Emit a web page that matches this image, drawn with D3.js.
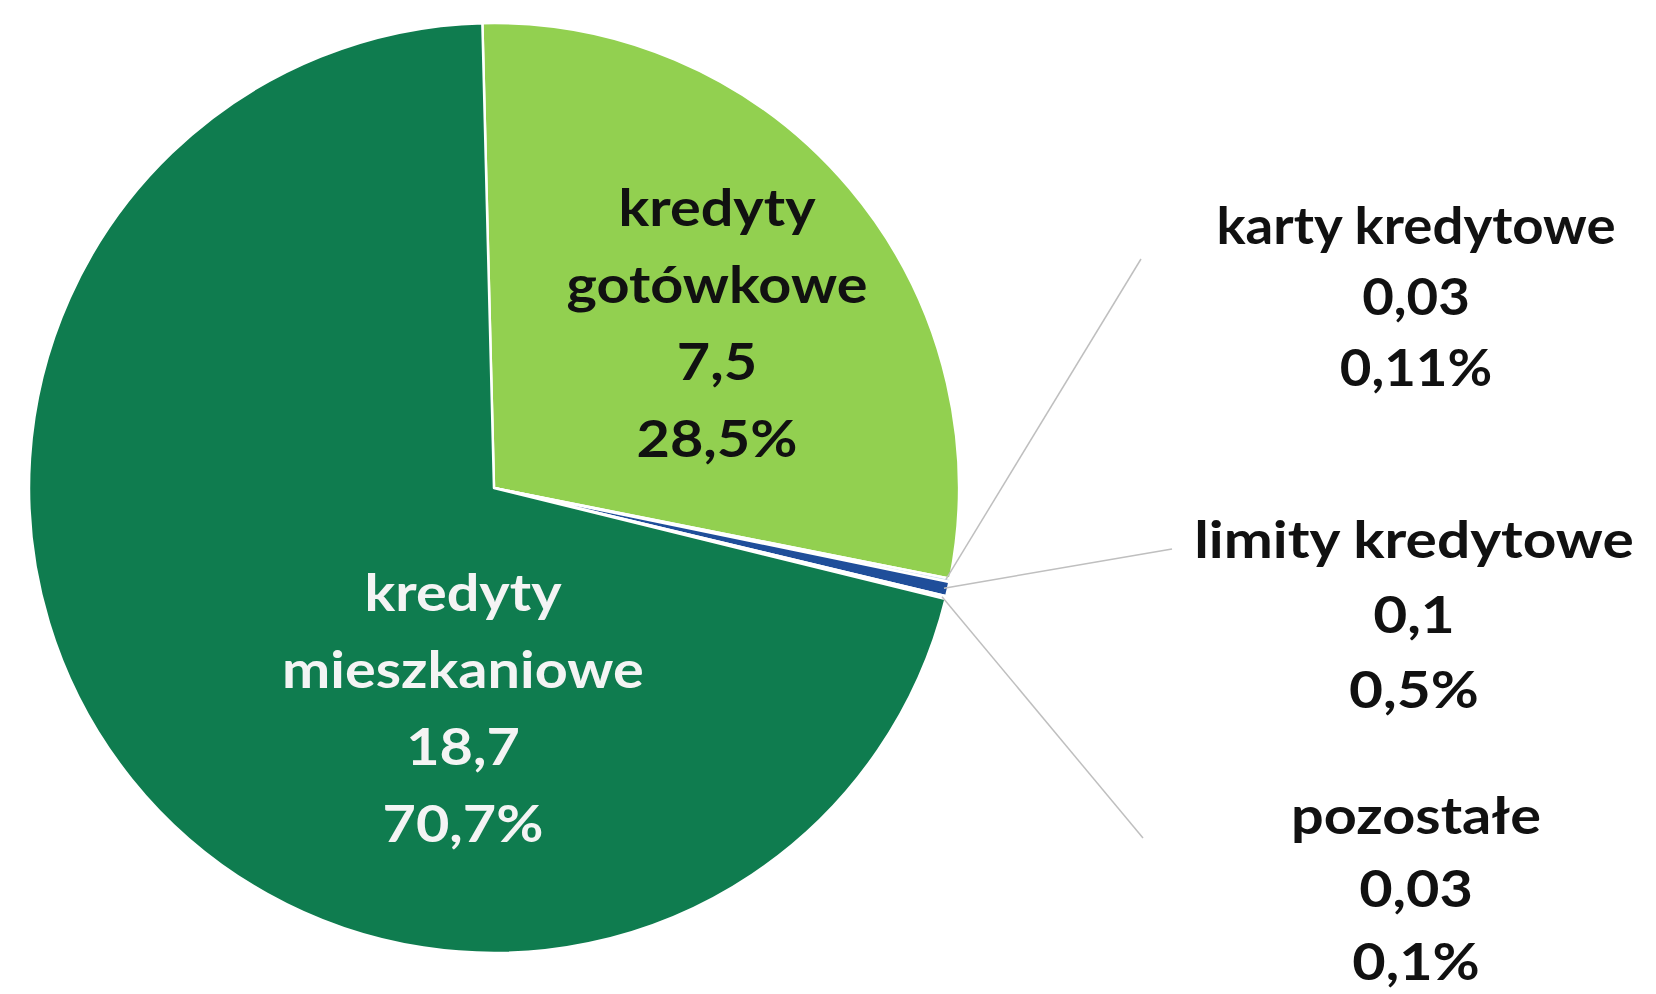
<!DOCTYPE html>
<html>
<head>
<meta charset="utf-8">
<script src="https://cdn.jsdelivr.net/npm/d3@7"></script>
<style>
  html, body { margin: 0; padding: 0; background: #fff; }
  svg { display: block; }
  text { font-family: Lato, "Open Sans", sans-serif; font-weight: 700; }
</style>
</head>
<body>
<svg id="chart" width="1656" height="994"></svg>
<script>
// ---- data ----
const categories = ["kredyty gotówkowe", "karty kredytowe", "limity kredytowe", "pozostałe", "kredyty mieszkaniowe"];
const valueLabels = ["7,5", "0,03", "0,1", "0,03", "18,7"];
const shareLabels = ["28,5%", "0,11%", "0,5%", "0,1%", "70,7%"];
const shares = [28.5, 0.11, 0.5, 0.1, 70.7];
const nameLines = [["kredyty", "gotówkowe"], ["karty kredytowe"], ["limity kredytowe"], ["pozostałe"], ["kredyty", "mieszkaniowe"]];

// ---- layout ----
const W = 1656, H = 994;
const cx = 494, cy = 488, R = 465;
const startA = -0.025;
const colors = ["#92D050", "#BDD7EE", "#1F4E9A", "#DDEBF7", "#0F7C4F"];
const textColors = ["#111", "#111", "#111", "#111", "#F4F4F4"];
const labelPos = [
  {x: 717, y: 206, out: false, step: 77, sx: 1.13},
  {x: 1416, y: 224, out: true, lx: 1141, ly: 259, step: 71, sx: 1.07},
  {x: 1414, y: 539, out: true, lx: 1172, ly: 549, step: 75, sx: 1.15},
  {x: 1416, y: 814, out: true, lx: 1143, ly: 838, step: 73, sx: 1.13},
  {x: 463, y: 591, out: false, step: 77, sx: 1.13}
];
const fontSize = 51;

const svg = d3.select("#chart");
const g = svg.append("g").attr("transform", `translate(${cx},${cy})`);

const pie = d3.pie().sort(null).value(d => d).startAngle(startA).endAngle(startA + 2 * Math.PI);
const arcs = pie(shares);
const arc = d3.arc().innerRadius(0).outerRadius(R);

g.selectAll("path.slice")
  .data(arcs)
  .join("path")
  .attr("class", "slice")
  .attr("d", arc)
  .attr("fill", (d, i) => colors[i])
  .attr("stroke", "#fff")
  .attr("stroke-width", 2.5)
  .attr("stroke-linejoin", "round");

// leader lines for small slices
arcs.forEach((d, i) => {
  const p = labelPos[i];
  if (!p.out) return;
  const a = (d.startAngle + d.endAngle) / 2;
  const sx = cx + Math.sin(a) * (R - 4);
  const sy = cy - Math.cos(a) * (R - 4);
  svg.append("line")
    .attr("x1", sx).attr("y1", sy)
    .attr("x2", p.lx).attr("y2", p.ly)
    .attr("stroke", "#BFBFBF")
    .attr("stroke-width", 1.5);
});

// labels
categories.forEach((c, i) => {
  const p = labelPos[i];
  const lines = nameLines[i].concat([valueLabels[i], shareLabels[i]]);
  const t = svg.append("g")
    .attr("transform", `translate(${p.x},${p.y}) scale(${p.sx},1)`)
    .append("text")
    .attr("text-anchor", "middle")
    .attr("dominant-baseline", "central")
    .attr("font-size", fontSize)
    .attr("fill", textColors[i]);
  lines.forEach((ln, k) => {
    t.append("tspan").attr("x", 0).attr("y", k * p.step).text(ln);
  });
});
</script>
</body>
</html>
